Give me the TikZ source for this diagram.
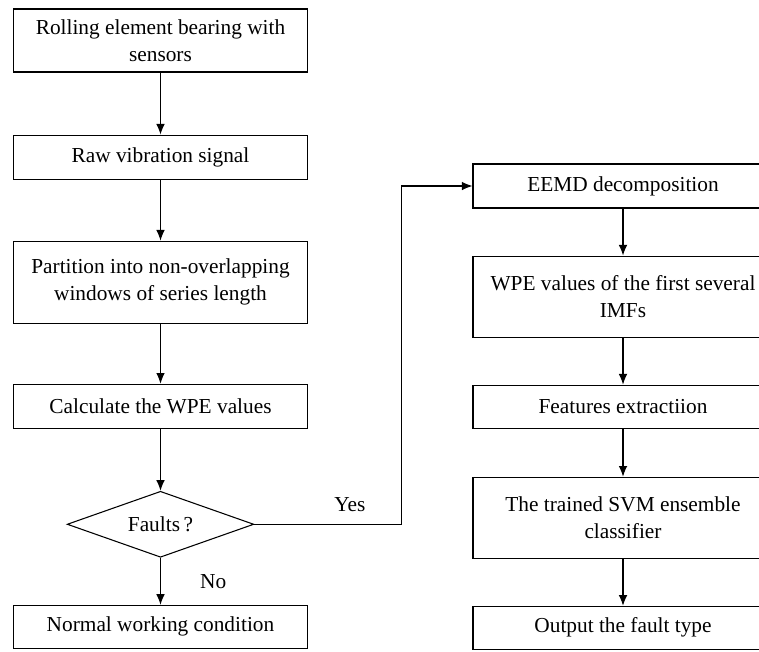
\documentclass[tikz,border=0pt]{standalone}
\usepackage{fontspec}
\setmainfont{Liberation Serif}
\usepackage{tikz}
\usetikzlibrary{arrows.meta,positioning,shapes.geometric}

\begin{document}
\begin{tikzpicture}[>={Latex[length=8pt,width=6.5pt]}, x=0.75pt, y=-0.75pt, line width=0.8pt]
	  \tikzset{block/.style= {draw, rectangle, align=center, minimum width=221pt, minimum height=33pt, font=\fontsize{16}{20.25}\selectfont},
	  	rblock/.style={block, minimum width=225pt},
	  	decision/.style={ % requires library shapes.geometric
	  		draw,
	  		diamond,
	  		aspect=2.8,
	  		inner sep=1pt,
	  		minimum width=140pt,
	  		minimum height=49.5pt,
	  		font=\fontsize{16}{20.25}\selectfont
	  	},
	  	lbl/.style={font=\fontsize{16}{20.25}\selectfont},
	  }
	  \useasboundingbox (0,0) rectangle (759,651);
	  % left column
	  \node [block, minimum height=47.25pt] (bearing) at (160.5,40.5) {Rolling element bearing with\\sensors};
	  \node [block, below=46.5pt of bearing] (raw) {Raw vibration signal};
	  \node [block, minimum height=61.5pt, below=45.75pt of raw] (partition) {Partition into non-overlapping\\windows of series length};
	  \node [block, below=45pt of partition] (calc) {Calculate the WPE values};
	  \node [decision, below=46.5pt of calc] (fault) {Faults\,?};
	  \node [block, minimum height=32.25pt, below=35.25pt of fault] (normal) {Normal working condition};
	  % right column
	  \node [rblock] (eemd) at (623,186) {EEMD decomposition};
	  \node [rblock, minimum height=60.75pt, below=35.25pt of eemd] (imfs) {WPE values of the first several\\IMFs};
	  \node [rblock, minimum height=32.25pt, below=35.25pt of imfs] (feature) {Features extractiion};
	  \node [rblock, minimum height=60.75pt, below=36pt of feature] (svm) {The trained SVM ensemble\\classifier};
	  \node [rblock, minimum height=32.25pt, below=35.25pt of svm] (output) {Output the fault type};

	  %% paths
	  \path[draw,->] (bearing) edge (raw)
	  (raw) edge (partition)
	  (partition) edge (calc)
	  (calc) edge (fault)
	  (fault) edge node[lbl, right=26pt] {No} (normal)
	  (eemd) edge (imfs)
	  (imfs) edge (feature)
	  (feature) edge (svm)
	  (svm) edge (output)
	  ;
	  \draw[->] (fault.east) -- node[lbl, above=6pt, pos=.65] {Yes} ++(147,0) |- (eemd.west);
	  \end{tikzpicture}
\end{document}
